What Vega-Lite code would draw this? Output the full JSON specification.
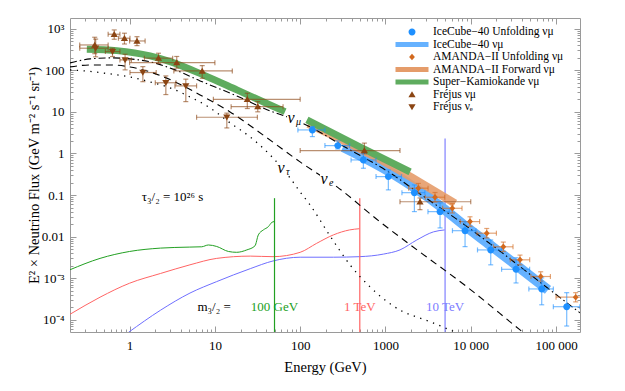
{
  "$schema": "https://vega.github.io/schema/vega-lite/v6.json",
  "width": 510,
  "height": 314,
  "autosize": {"type": "none"},
  "padding": {"left": 70, "top": 18, "right": 45, "bottom": 59},
  "background": "white",
  "config": {
    "font": "Liberation Serif",
    "view": {"stroke": "#9a9a9a", "strokeWidth": 1},
    "axis": {"domain": false, "grid": false, "tickColor": "#9a9a9a", "tickWidth": 1, "labelFont": "Liberation Serif", "labelFontSize": 13, "labelColor": "#000000", "titleFont": "Liberation Serif", "titleFontSize": 14.5, "titleFontWeight": "normal", "titleColor": "#000000", "labelFlush": false, "labelOverlap": false}
  },
  "resolve": {"axis": {"x": "independent", "y": "independent"}, "scale": {"color": "independent", "shape": "independent"}},
  "datasets": {
    "pts": [
      {"series": "IceCube−40 Unfolding νμ", "E": 139, "F": 3.67, "Elo": 94, "Ehi": 195, "Flo": 2.54, "Fhi": 4.41},
      {"series": "IceCube−40 Unfolding νμ", "E": 276, "F": 1.54, "Elo": 195, "Ehi": 380, "Flo": 1.28, "Fhi": 2.0},
      {"series": "IceCube−40 Unfolding νμ", "E": 551, "F": 0.698, "Elo": 395, "Ehi": 775, "Flo": 0.44, "Fhi": 1.01},
      {"series": "IceCube−40 Unfolding νμ", "E": 1081, "F": 0.277, "Elo": 775, "Ehi": 1540, "Flo": 0.133, "Fhi": 0.40},
      {"series": "IceCube−40 Unfolding νμ", "E": 2183, "F": 0.114, "Elo": 1560, "Ehi": 2900, "Flo": 0.040, "Fhi": 0.175},
      {"series": "IceCube−40 Unfolding νμ", "E": 4365, "F": 0.0399, "Elo": 3150, "Ehi": 5600, "Flo": 0.0162, "Fhi": 0.0646},
      {"series": "IceCube−40 Unfolding νμ", "E": 8575, "F": 0.0139, "Elo": 6100, "Ehi": 11500, "Flo": 0.00575, "Fhi": 0.0229},
      {"series": "IceCube−40 Unfolding νμ", "E": 17150, "F": 0.00479, "Elo": 12000, "Ehi": 23000, "Flo": 0.0021, "Fhi": 0.0083},
      {"series": "IceCube−40 Unfolding νμ", "E": 33960, "F": 0.00164, "Elo": 23000, "Ehi": 49000, "Flo": 0.00077, "Fhi": 0.0031},
      {"series": "IceCube−40 Unfolding νμ", "E": 67950, "F": 0.000553, "Elo": 48000, "Ehi": 93000, "Flo": 0.00023, "Fhi": 0.00102},
      {"series": "IceCube−40 Unfolding νμ", "E": 133400, "F": 0.000207, "Elo": 93000, "Ehi": 190000, "Flo": 0.000071, "Fhi": 0.00045},
      {"series": "AMANDA−II Unfolding νμ", "E": 2430, "F": 0.146, "Elo": 1870, "Ehi": 3160, "Flo": 0.112, "Fhi": 0.19},
      {"series": "AMANDA−II Unfolding νμ", "E": 3810, "F": 0.0885, "Elo": 2930, "Ehi": 4950, "Flo": 0.068, "Fhi": 0.115},
      {"series": "AMANDA−II Unfolding νμ", "E": 6080, "F": 0.048, "Elo": 4680, "Ehi": 7900, "Flo": 0.037, "Fhi": 0.062},
      {"series": "AMANDA−II Unfolding νμ", "E": 9800, "F": 0.023, "Elo": 7540, "Ehi": 12700, "Flo": 0.0177, "Fhi": 0.030},
      {"series": "AMANDA−II Unfolding νμ", "E": 15400, "F": 0.0121, "Elo": 11800, "Ehi": 20000, "Flo": 0.0093, "Fhi": 0.0157},
      {"series": "AMANDA−II Unfolding νμ", "E": 24100, "F": 0.0057, "Elo": 18500, "Ehi": 31300, "Flo": 0.0044, "Fhi": 0.0074},
      {"series": "AMANDA−II Unfolding νμ", "E": 37800, "F": 0.00277, "Elo": 29100, "Ehi": 49100, "Flo": 0.0021, "Fhi": 0.0036},
      {"series": "AMANDA−II Unfolding νμ", "E": 66100, "F": 0.0011, "Elo": 50800, "Ehi": 85900, "Flo": 0.00085, "Fhi": 0.00143},
      {"series": "AMANDA−II Unfolding νμ", "E": 170000, "F": 0.00035, "Elo": 100000, "Ehi": 300000, "Flo": 0.00027, "Fhi": 0.00045},
      {"series": "Fréjus νμ", "E": 0.39, "F": 405, "Elo": 0.26, "Ehi": 0.56, "Flo": 250, "Fhi": 620},
      {"series": "Fréjus νμ", "E": 0.66, "F": 733, "Elo": 0.56, "Ehi": 0.77, "Flo": 555, "Fhi": 930},
      {"series": "Fréjus νμ", "E": 0.87, "F": 588, "Elo": 0.74, "Ehi": 1.01, "Flo": 427, "Fhi": 776},
      {"series": "Fréjus νμ", "E": 1.22, "F": 505, "Elo": 1.0, "Ehi": 1.52, "Flo": 390, "Fhi": 640},
      {"series": "Fréjus νμ", "E": 2.18, "F": 195, "Elo": 1.49, "Ehi": 3.2, "Flo": 147, "Fhi": 256},
      {"series": "Fréjus νμ", "E": 3.57, "F": 152, "Elo": 1.0, "Ehi": 10, "Flo": 112, "Fhi": 214},
      {"series": "Fréjus νμ", "E": 7.1, "F": 96, "Elo": 3.3, "Ehi": 16, "Flo": 64, "Fhi": 129},
      {"series": "Fréjus νμ", "E": 24, "F": 20, "Elo": 9.6, "Ehi": 100, "Flo": 12, "Fhi": 28},
      {"series": "Fréjus νμ", "E": 31.8, "F": 13.3, "Elo": 15.5, "Ehi": 63, "Flo": 10, "Fhi": 17.6},
      {"series": "Fréjus νμ", "E": 566, "F": 1.17, "Elo": 100, "Ehi": 1480, "Flo": 0.98, "Fhi": 1.77},
      {"series": "Fréjus νμ", "E": 2540, "F": 0.069, "Elo": 1480, "Ehi": 10000, "Flo": 0.0445, "Fhi": 0.085},
      {"series": "Fréjus νₑ", "E": 0.40, "F": 338, "Elo": 0.26, "Ehi": 0.56, "Flo": 210, "Fhi": 560},
      {"series": "Fréjus νₑ", "E": 0.63, "F": 280, "Elo": 0.52, "Ehi": 0.77, "Flo": 213, "Fhi": 337},
      {"series": "Fréjus νₑ", "E": 0.885, "F": 177, "Elo": 0.77, "Ehi": 1.05, "Flo": 102, "Fhi": 242},
      {"series": "Fréjus νₑ", "E": 1.43, "F": 88, "Elo": 1.01, "Ehi": 2.05, "Flo": 53, "Fhi": 122},
      {"series": "Fréjus νₑ", "E": 2.66, "F": 50, "Elo": 2.0, "Ehi": 3.5, "Flo": 26, "Fhi": 73},
      {"series": "Fréjus νₑ", "E": 4.56, "F": 42, "Elo": 3.4, "Ehi": 6.1, "Flo": 17.6, "Fhi": 61},
      {"series": "Fréjus νₑ", "E": 13.8, "F": 7.4, "Elo": 6.1, "Ehi": 31.5, "Flo": 4.1, "Fhi": 9.3}
    ],
    "bands": [
      {"series": "IceCube−40 νμ", "seg": "ic", "E": 318, "F": 1.43},
      {"series": "IceCube−40 νμ", "seg": "ic", "E": 1132, "F": 0.359},
      {"series": "IceCube−40 νμ", "seg": "ic", "E": 2222, "F": 0.148},
      {"series": "IceCube−40 νμ", "seg": "ic", "E": 4366, "F": 0.0547},
      {"series": "IceCube−40 νμ", "seg": "ic", "E": 8570, "F": 0.0181},
      {"series": "IceCube−40 νμ", "seg": "ic", "E": 16830, "F": 0.0063},
      {"series": "IceCube−40 νμ", "seg": "ic", "E": 33950, "F": 0.00209},
      {"series": "IceCube−40 νμ", "seg": "ic", "E": 80500, "F": 0.000525},
      {"series": "AMANDA−II Forward νμ", "seg": "am", "E": 124, "F": 5.12},
      {"series": "AMANDA−II Forward νμ", "seg": "am", "E": 385, "F": 1.69},
      {"series": "AMANDA−II Forward νμ", "seg": "am", "E": 1132, "F": 0.53},
      {"series": "AMANDA−II Forward νμ", "seg": "am", "E": 2544, "F": 0.20},
      {"series": "AMANDA−II Forward νμ", "seg": "am", "E": 6540, "F": 0.063},
      {"series": "Super−Kamiokande νμ", "seg": "sk1", "E": 0.315, "F": 320},
      {"series": "Super−Kamiokande νμ", "seg": "sk1", "E": 0.708, "F": 296},
      {"series": "Super−Kamiokande νμ", "seg": "sk1", "E": 1.74, "F": 221},
      {"series": "Super−Kamiokande νμ", "seg": "sk1", "E": 2.98, "F": 161},
      {"series": "Super−Kamiokande νμ", "seg": "sk1", "E": 7.33, "F": 77},
      {"series": "Super−Kamiokande νμ", "seg": "sk1", "E": 18.1, "F": 33.6},
      {"series": "Super−Kamiokande νμ", "seg": "sk1", "E": 44.4, "F": 14.6},
      {"series": "Super−Kamiokande νμ", "seg": "sk1", "E": 66.5, "F": 10.1},
      {"series": "Super−Kamiokande νμ", "seg": "sk2", "E": 120, "F": 6.4},
      {"series": "Super−Kamiokande νμ", "seg": "sk2", "E": 480, "F": 1.5},
      {"series": "Super−Kamiokande νμ", "seg": "sk2", "E": 1945, "F": 0.36}
    ],
    "nu": [
      {"nu": "mu", "E": 0.2, "F": 150}, {"nu": "mu", "E": 0.344, "F": 187}, {"nu": "mu", "E": 0.591, "F": 198}, {"nu": "mu", "E": 1.014, "F": 187}, {"nu": "mu", "E": 1.739, "F": 159}, {"nu": "mu", "E": 3.415, "F": 102}, {"nu": "mu", "E": 6.707, "F": 55.4}, {"nu": "mu", "E": 18.06, "F": 24.1}, {"nu": "mu", "E": 44.37, "F": 10.5}, {"nu": "mu", "E": 76.1, "F": 7.13}, {"nu": "mu", "E": 137.9, "F": 4.1}, {"nu": "mu", "E": 318.4, "F": 1.51}, {"nu": "mu", "E": 1132, "F": 0.34}, {"nu": "mu", "E": 2545, "F": 0.106}, {"nu": "mu", "E": 7907, "F": 0.0213}, {"nu": "mu", "E": 20340, "F": 0.00506}, {"nu": "mu", "E": 85110, "F": 0.000524}, {"nu": "mu", "E": 191200, "F": 0.000147},
      {"nu": "e", "E": 0.2, "F": 120}, {"nu": "e", "E": 0.344, "F": 134}, {"nu": "e", "E": 0.591, "F": 134}, {"nu": "e", "E": 1.014, "F": 120}, {"nu": "e", "E": 1.739, "F": 91}, {"nu": "e", "E": 3.415, "F": 52.4}, {"nu": "e", "E": 6.707, "F": 25.5}, {"nu": "e", "E": 15.07, "F": 9.95}, {"nu": "e", "E": 40.93, "F": 2.36}, {"nu": "e", "E": 99.7, "F": 0.625}, {"nu": "e", "E": 270.8, "F": 0.157}, {"nu": "e", "E": 864.5, "F": 0.0226}, {"nu": "e", "E": 2349, "F": 0.00479}, {"nu": "e", "E": 9051, "F": 0.000618}, {"nu": "e", "E": 37840, "F": 0.0000572}, {"nu": "e", "E": 49560, "F": 0.0000367},
      {"nu": "tau", "E": 0.2, "F": 101.6}, {"nu": "tau", "E": 0.344, "F": 93.5}, {"nu": "tau", "E": 0.591, "F": 81.5}, {"nu": "tau", "E": 1.014, "F": 69.0}, {"nu": "tau", "E": 1.739, "F": 52.4}, {"nu": "tau", "E": 2.985, "F": 37.6}, {"nu": "tau", "E": 5.121, "F": 22.8}, {"nu": "tau", "E": 8.785, "F": 12.4}, {"nu": "tau", "E": 15.07, "F": 5.41}, {"nu": "tau", "E": 25.86, "F": 2.49}, {"nu": "tau", "E": 44.37, "F": 0.92}, {"nu": "tau", "E": 76.1, "F": 0.258}, {"nu": "tau", "E": 99.7, "F": 0.1188}, {"nu": "tau", "E": 130.6, "F": 0.0578}, {"nu": "tau", "E": 224.1, "F": 0.0104}, {"nu": "tau", "E": 384.6, "F": 0.00209}, {"nu": "tau", "E": 659.9, "F": 0.000618}, {"nu": "tau", "E": 1228, "F": 0.000216}, {"nu": "tau", "E": 3614, "F": 0.0000843}, {"nu": "tau", "E": 7492, "F": 0.0000458}
    ],
    "gm": [
      {"m": "g", "E": 0.2, "F": 0.0016}, {"m": "g", "E": 0.45, "F": 0.003}, {"m": "g", "E": 1, "F": 0.0044}, {"m": "g", "E": 2.3, "F": 0.0053}, {"m": "g", "E": 5, "F": 0.0056}, {"m": "g", "E": 7, "F": 0.0057}, {"m": "g", "E": 8.4, "F": 0.0063}, {"m": "g", "E": 10.5, "F": 0.0058}, {"m": "g", "E": 14.4, "F": 0.0044}, {"m": "g", "E": 18, "F": 0.0042}, {"m": "g", "E": 23.7, "F": 0.0048}, {"m": "g", "E": 29.5, "F": 0.006}, {"m": "g", "E": 32.3, "F": 0.011}, {"m": "g", "E": 37, "F": 0.0145}, {"m": "g", "E": 42.4, "F": 0.0174}, {"m": "g", "E": 46.5, "F": 0.022}, {"m": "g", "E": 49.5, "F": 0.023},
      {"m": "r", "E": 0.2, "F": 0.000136}, {"m": "r", "E": 0.45, "F": 0.00035}, {"m": "r", "E": 1, "F": 0.00076}, {"m": "r", "E": 2.3, "F": 0.0013}, {"m": "r", "E": 5.1, "F": 0.0021}, {"m": "r", "E": 10.5, "F": 0.003}, {"m": "r", "E": 26, "F": 0.0034}, {"m": "r", "E": 48, "F": 0.0033}, {"m": "r", "E": 100, "F": 0.0042}, {"m": "r", "E": 156, "F": 0.0069}, {"m": "r", "E": 245, "F": 0.011}, {"m": "r", "E": 380, "F": 0.0145}, {"m": "r", "E": 495, "F": 0.0155},
      {"m": "b", "E": 0.97, "F": 0.00005}, {"m": "b", "E": 2.3, "F": 0.00017}, {"m": "b", "E": 5.1, "F": 0.00044}, {"m": "b", "E": 10.5, "F": 0.00083}, {"m": "b", "E": 26, "F": 0.0017}, {"m": "b", "E": 48, "F": 0.0026}, {"m": "b", "E": 100, "F": 0.0032}, {"m": "b", "E": 245, "F": 0.0032}, {"m": "b", "E": 500, "F": 0.0033}, {"m": "b", "E": 945, "F": 0.0038}, {"m": "b", "E": 1480, "F": 0.0048}, {"m": "b", "E": 2330, "F": 0.0083}, {"m": "b", "E": 3650, "F": 0.013}, {"m": "b", "E": 4950, "F": 0.0145}
    ],
    "spk": [
      {"m": "g", "E": 50, "Flo": 0.00001, "Fhi": 0.084},
      {"m": "r", "E": 500, "Flo": 0.00001, "Fhi": 0.084},
      {"m": "b", "E": 5000, "Flo": 0.00001, "Fhi": 2.3}
    ],
    "nulab": [
      {"sub": "μ", "E": 84.8, "F": 7.13},
      {"sub": "τ", "E": 64.8, "F": 0.448},
      {"sub": "e", "E": 206.6, "F": 0.244}
    ],
    "ann": [
      {"key": "tau", "txt": "τ₃/₂ = 10²⁶ s", "E": 3.19, "F": 0.0916},
      {"key": "m", "txt": "m₃/₂ =", "E": 9.78, "F": 0.0002},
      {"key": "g", "txt": "100 GeV", "E": 50, "F": 0.0002},
      {"key": "r", "txt": "1 TeV", "E": 500, "F": 0.0002},
      {"key": "b", "txt": "10 TeV", "E": 5000, "F": 0.0002}
    ]
  },
  "layer": [
    {"data": {"name": "gm"}, "transform": [{"filter": "datum.m == 'g'"}],
     "mark": {"type": "line", "color": "#22a022", "strokeWidth": 1, "clip": true, "interpolate": "monotone"},
     "encoding": {"x": {"field": "E", "type": "quantitative", "scale": {"type": "log", "domain": [0.2, 191000], "nice": false}, "axis": null},
                  "y": {"field": "F", "type": "quantitative", "scale": {"type": "log", "domain": [0.000051, 1800], "nice": false}, "axis": null}}},
    {"data": {"name": "gm"}, "transform": [{"filter": "datum.m == 'r'"}],
     "mark": {"type": "line", "color": "#ff6464", "strokeWidth": 1, "clip": true, "interpolate": "monotone"},
     "encoding": {"x": {"field": "E", "type": "quantitative", "axis": null}, "y": {"field": "F", "type": "quantitative", "axis": null}}},
    {"data": {"name": "gm"}, "transform": [{"filter": "datum.m == 'b'"}],
     "mark": {"type": "line", "color": "#6f6fff", "strokeWidth": 1, "clip": true, "interpolate": "monotone"},
     "encoding": {"x": {"field": "E", "type": "quantitative", "axis": null}, "y": {"field": "F", "type": "quantitative", "axis": null}}},
    {"data": {"name": "spk"}, "transform": [{"filter": "datum.m == 'g'"}],
     "mark": {"type": "rule", "color": "#22a022", "strokeWidth": 1.2, "clip": true},
     "encoding": {"x": {"field": "E", "type": "quantitative", "axis": null}, "y": {"field": "Flo", "type": "quantitative", "axis": null}, "y2": {"field": "Fhi"}}},
    {"data": {"name": "spk"}, "transform": [{"filter": "datum.m == 'r'"}],
     "mark": {"type": "rule", "color": "#ff6464", "strokeWidth": 1.2, "clip": true},
     "encoding": {"x": {"field": "E", "type": "quantitative", "axis": null}, "y": {"field": "Flo", "type": "quantitative", "axis": null}, "y2": {"field": "Fhi"}}},
    {"data": {"name": "spk"}, "transform": [{"filter": "datum.m == 'b'"}],
     "mark": {"type": "rule", "color": "#8080ff", "strokeWidth": 1.2, "clip": true},
     "encoding": {"x": {"field": "E", "type": "quantitative", "axis": null}, "y": {"field": "Flo", "type": "quantitative", "axis": null}, "y2": {"field": "Fhi"}}},
    {"data": {"name": "bands"}, "transform": [{"filter": "datum.seg == 'ic'"}],
     "mark": {"type": "line", "color": "#66b2ff", "strokeWidth": 10, "strokeCap": "butt", "clip": true, "interpolate": "monotone"},
     "encoding": {"x": {"field": "E", "type": "quantitative", "axis": null}, "y": {"field": "F", "type": "quantitative", "axis": null}}},
    {"data": {"name": "bands"}, "transform": [{"filter": "datum.seg == 'am'"}],
     "mark": {"type": "line", "color": "#e59c6a", "strokeWidth": 8, "strokeCap": "butt", "clip": true, "interpolate": "monotone", "opacity": 0.9},
     "encoding": {"x": {"field": "E", "type": "quantitative", "axis": null}, "y": {"field": "F", "type": "quantitative", "axis": null}}},
    {"data": {"name": "bands"}, "transform": [{"filter": "datum.seg == 'sk1' || datum.seg == 'sk2'"}],
     "mark": {"type": "line", "color": "#5fac5f", "strokeWidth": 7, "strokeCap": "butt", "clip": true, "interpolate": "monotone"},
     "encoding": {"x": {"field": "E", "type": "quantitative", "axis": {"orient": "top", "values": [0.3,0.4,0.5,0.6,0.7,0.8,0.9,2,3,4,5,6,7,8,9,20,30,40,50,60,70,80,90,200,300,400,500,600,700,800,900,2000,3000,4000,5000,6000,7000,8000,9000,20000,30000,40000,50000,60000,70000,80000,90000], "labels": false, "tickSize": -3, "title": null}},
                  "y": {"field": "F", "type": "quantitative", "axis": {"orient": "right", "values": [0.00006,0.00007,0.00008,0.00009,0.0002,0.0003,0.0004,0.0005,0.0006,0.0007,0.0008,0.0009,0.002,0.003,0.004,0.005,0.006,0.007,0.008,0.009,0.02,0.03,0.04,0.05,0.06,0.07,0.08,0.09,0.2,0.3,0.4,0.5,0.6,0.7,0.8,0.9,2,3,4,5,6,7,8,9,20,30,40,50,60,70,80,90,200,300,400,500,600,700,800,900], "labels": false, "tickSize": -3, "title": null}},
                  "detail": {"field": "seg", "type": "nominal"}}},
    {"data": {"name": "nu"}, "transform": [{"filter": "datum.nu == 'e'"}],
     "mark": {"type": "line", "color": "black", "strokeWidth": 1.1, "strokeDash": [7, 5], "clip": true, "interpolate": "monotone"},
     "encoding": {"x": {"field": "E", "type": "quantitative", "axis": {"orient": "bottom", "values": [0.3,0.4,0.5,0.6,0.7,0.8,0.9,2,3,4,5,6,7,8,9,20,30,40,50,60,70,80,90,200,300,400,500,600,700,800,900,2000,3000,4000,5000,6000,7000,8000,9000,20000,30000,40000,50000,60000,70000,80000,90000], "labels": false, "tickSize": -3, "title": null}},
                  "y": {"field": "F", "type": "quantitative", "axis": {"orient": "left", "values": [0.00006,0.00007,0.00008,0.00009,0.0002,0.0003,0.0004,0.0005,0.0006,0.0007,0.0008,0.0009,0.002,0.003,0.004,0.005,0.006,0.007,0.008,0.009,0.02,0.03,0.04,0.05,0.06,0.07,0.08,0.09,0.2,0.3,0.4,0.5,0.6,0.7,0.8,0.9,2,3,4,5,6,7,8,9,20,30,40,50,60,70,80,90,200,300,400,500,600,700,800,900], "labels": false, "tickSize": -3, "title": null}}}},
    {"data": {"name": "nu"}, "transform": [{"filter": "datum.nu == 'tau'"}],
     "mark": {"type": "line", "color": "black", "strokeWidth": 1.3, "strokeDash": [1.3, 5.5], "clip": true, "interpolate": "monotone"},
     "encoding": {"x": {"field": "E", "type": "quantitative", "axis": {"orient": "top", "values": [1,10,100,1000,10000,100000], "labels": false, "tickSize": -6, "title": null}},
                  "y": {"field": "F", "type": "quantitative", "axis": {"orient": "right", "values": [0.0001,0.001,0.01,0.1,1,10,100,1000], "labels": false, "tickSize": -6, "title": null}}}},
    {"data": {"name": "nu"}, "transform": [{"filter": "datum.nu == 'mu'"}],
     "mark": {"type": "line", "color": "black", "strokeWidth": 1.1, "strokeDash": [7, 3, 1.5, 3], "clip": true, "interpolate": "monotone"},
     "encoding": {"x": {"field": "E", "type": "quantitative", "axis": {"orient": "bottom", "values": [1,10,100,1000,10000,100000], "tickSize": -6, "labelPadding": 13, "labelExpr": "datum.value == 10000 ? '10 000' : datum.value == 100000 ? '100 000' : format(datum.value, 'd')", "title": "Energy (GeV)", "titlePadding": 8}},
                  "y": {"field": "F", "type": "quantitative", "axis": {"orient": "left", "values": [0.0001,0.001,0.01,0.1,1,10,100,1000], "tickSize": -6, "labelPadding": 12, "labelExpr": "datum.value == 1000 ? '10³' : datum.value == 0.001 ? '10⁻³' : datum.value == 0.0001 ? '10⁻⁴' : datum.value == 0.1 ? '0.1' : datum.value == 0.01 ? '0.01' : format(datum.value, 'd')", "title": "E² × Neutrino Flux (GeV m⁻² s⁻¹ sr⁻¹)", "titlePadding": 0}}}},
    {"data": {"name": "pts"},
     "mark": {"type": "errorbar", "ticks": true, "thickness": 1.2, "opacity": 0.6, "clip": true},
     "encoding": {"x": {"field": "Elo", "type": "quantitative", "axis": null}, "x2": {"field": "Ehi"}, "y": {"field": "F", "type": "quantitative", "axis": null},
                  "color": {"field": "series", "type": "nominal", "scale": {"domain": ["IceCube−40 Unfolding νμ", "AMANDA−II Unfolding νμ", "Fréjus νμ", "Fréjus νₑ"], "range": ["#1e90ff", "#d2691e", "#8b4513", "#8b4513"]}, "legend": null}}},
    {"data": {"name": "pts"},
     "mark": {"type": "errorbar", "ticks": true, "thickness": 1.2, "opacity": 0.6, "clip": true},
     "encoding": {"x": {"field": "E", "type": "quantitative", "axis": null}, "y": {"field": "Flo", "type": "quantitative", "axis": null}, "y2": {"field": "Fhi"},
                  "color": {"field": "series", "type": "nominal", "scale": {"domain": ["IceCube−40 Unfolding νμ", "AMANDA−II Unfolding νμ", "Fréjus νμ", "Fréjus νₑ"], "range": ["#1e90ff", "#d2691e", "#8b4513", "#8b4513"]}, "legend": null}}},
    {"data": {"name": "pts"},
     "mark": {"type": "point", "filled": true, "size": 144, "opacity": 1, "clip": true, "strokeWidth": 0},
     "encoding": {"x": {"field": "E", "type": "quantitative", "axis": null}, "y": {"field": "F", "type": "quantitative", "axis": null},
                  "color": {"field": "series", "type": "nominal",
                            "scale": {"domain": ["IceCube−40 Unfolding νμ", "IceCube−40 νμ", "AMANDA−II Unfolding νμ", "AMANDA−II Forward νμ", "Super−Kamiokande νμ", "Fréjus νμ", "Fréjus νₑ"],
                                      "range": ["#1e90ff", "#66b2ff", "#d2691e", "#e59c6a", "#5fac5f", "#8b4513", "#8b4513"]},
                            "legend": {"title": null, "orient": "none", "legendX": 336, "legendY": 8, "symbolSize": 144, "labelFont": "Liberation Serif", "labelFontSize": 11.5, "labelOffset": 15, "rowPadding": 0.5, "padding": 0, "symbolStrokeWidth": 0, "labelLimit": 400, "symbolOpacity": 1}},
                  "shape": {"field": "series", "type": "nominal",
                            "scale": {"domain": ["IceCube−40 Unfolding νμ", "IceCube−40 νμ", "AMANDA−II Unfolding νμ", "AMANDA−II Forward νμ", "Super−Kamiokande νμ", "Fréjus νμ", "Fréjus νₑ"],
                                      "range": ["M-0.58,0A0.58,0.58,0,1,0,0.58,0A0.58,0.58,0,1,0,-0.58,0Z", "M-2.75,-0.42H2.75V0.42H-2.75Z", "M0,-0.55L0.48,0L0,0.55L-0.48,0Z", "M-2.75,-0.42H2.75V0.42H-2.75Z", "M-2.75,-0.42H2.75V0.42H-2.75Z", "M0,-0.55L0.6,0.45L-0.6,0.45Z", "M0,0.55L0.6,-0.45L-0.6,-0.45Z"]},
                            "legend": {"title": null, "orient": "none", "legendX": 336, "legendY": 8, "symbolSize": 144, "labelFont": "Liberation Serif", "labelFontSize": 11.5, "labelOffset": 15, "rowPadding": 0.5, "padding": 0, "symbolStrokeWidth": 0, "labelLimit": 400, "symbolOpacity": 1}}}},
    {"data": {"name": "nulab"},
     "mark": {"type": "point", "shape": "square", "filled": true, "color": "white", "opacity": 1, "size": 200},
     "encoding": {"x": {"field": "E", "type": "quantitative", "axis": null}, "y": {"field": "F", "type": "quantitative", "axis": null}}},
    {"data": {"name": "nulab"},
     "mark": {"type": "text", "text": "ν", "font": "Liberation Serif", "fontSize": 16, "fontStyle": "italic", "align": "center", "baseline": "middle", "dx": -3, "color": "black"},
     "encoding": {"x": {"field": "E", "type": "quantitative", "axis": null}, "y": {"field": "F", "type": "quantitative", "axis": null}}},
    {"data": {"name": "nulab"},
     "mark": {"type": "text", "font": "Liberation Serif", "fontSize": 10, "fontStyle": "italic", "align": "left", "baseline": "middle", "dx": 2, "dy": 4, "color": "black"},
     "encoding": {"x": {"field": "E", "type": "quantitative", "axis": null}, "y": {"field": "F", "type": "quantitative", "axis": null}, "text": {"field": "sub"}}},
    {"data": {"name": "ann"}, "transform": [{"filter": {"field": "key", "oneOf": ["tau", "m"]}}],
     "mark": {"type": "text", "font": "Liberation Serif", "fontSize": 13, "align": "center", "baseline": "middle", "color": "black"},
     "encoding": {"x": {"field": "E", "type": "quantitative", "axis": null}, "y": {"field": "F", "type": "quantitative", "axis": null}, "text": {"field": "txt"}}},
    {"data": {"name": "ann"}, "transform": [{"filter": "datum.key == 'g'"}],
     "mark": {"type": "text", "font": "Liberation Serif", "fontSize": 13, "align": "center", "baseline": "middle", "color": "#22a022"},
     "encoding": {"x": {"field": "E", "type": "quantitative", "axis": null}, "y": {"field": "F", "type": "quantitative", "axis": null}, "text": {"field": "txt"}}},
    {"data": {"name": "ann"}, "transform": [{"filter": "datum.key == 'r'"}],
     "mark": {"type": "text", "font": "Liberation Serif", "fontSize": 13, "align": "center", "baseline": "middle", "color": "#ff6464"},
     "encoding": {"x": {"field": "E", "type": "quantitative", "axis": null}, "y": {"field": "F", "type": "quantitative", "axis": null}, "text": {"field": "txt"}}},
    {"data": {"name": "ann"}, "transform": [{"filter": "datum.key == 'b'"}],
     "mark": {"type": "text", "font": "Liberation Serif", "fontSize": 13, "align": "center", "baseline": "middle", "color": "#7b7bff"},
     "encoding": {"x": {"field": "E", "type": "quantitative", "axis": null}, "y": {"field": "F", "type": "quantitative", "axis": null}, "text": {"field": "txt"}}}
  ]
}
